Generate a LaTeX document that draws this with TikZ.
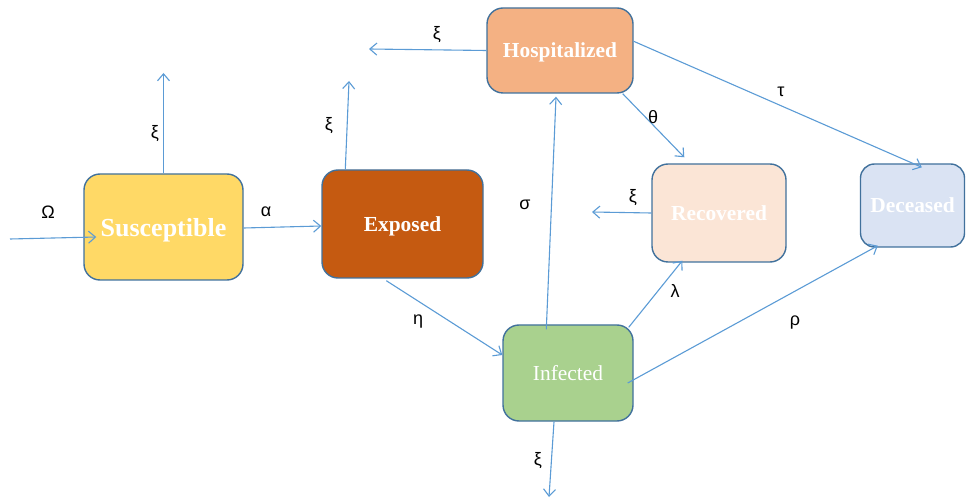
\documentclass[tikz,border=0pt]{standalone}
\usepackage{fontspec}
\setmainfont{Liberation Serif}
\newfontfamily\lblfont{Liberation Sans}
\usetikzlibrary{calc,arrows.meta}
\definecolor{bordc}{HTML}{41719C}
\definecolor{arrc}{HTML}{5B9BD5}
\definecolor{csus}{HTML}{FFD966}
\definecolor{cexp}{HTML}{C55A11}
\definecolor{chos}{HTML}{F4B183}
\definecolor{crec}{HTML}{FBE5D6}
\definecolor{cdec}{HTML}{DAE3F3}
\definecolor{cinf}{HTML}{A9D18E}
\tikzset{
  box/.style={draw=bordc, line width=1.4pt, rounded corners=16pt, text=white, inner sep=0pt, text depth=0pt, font=\fontsize{21.4}{24}\selectfont\bfseries},
  arr/.style={draw=arrc, line width=1.1pt, -{Straight Barb[length=7pt,width=12pt,line width=1.1pt]}},
  lbl/.style={font=\lblfont\fontsize{18}{20}\selectfont, text=black}
}
\begin{document}
\begin{tikzpicture}[x=1pt,y=-1pt]
\useasboundingbox (0,0) rectangle (966,502);
\node[box, fill=csus, minimum width=159pt, minimum height=106pt, font=\fontsize{26}{28}\selectfont\bfseries] (S) at (163.5,227) {Susceptible};
\node[box, fill=cexp, minimum width=161pt, minimum height=108pt] (E) at (402.5,224) {Exposed};
\node[box, fill=chos, minimum width=146pt, minimum height=85pt] (H) at (560,50.5) {Hospitalized};
\node[box, fill=crec, minimum width=134pt, minimum height=98pt] (R) at (719,213) {Recovered};
\node[box, fill=cdec, minimum width=104pt, minimum height=83pt, rounded corners=14pt] (D) at (912.5,205.5) {Deceased};
\node[box, fill=cinf, minimum width=130pt, minimum height=96pt, font=\fontsize{21.4}{24}\selectfont] (I) at (568,373) {Infected};
\coordinate (in) at (10,239);
\coordinate (sup) at (163.5,73);
\coordinate (eup) at (349,81);
\coordinate (hl) at (369,49);
\coordinate (rl) at (592,212);
\coordinate (idown) at (549,497);
\draw[arr] (in) -- ($(S.west)+(13,10)$);
\draw[arr] ($(S.east)+(0,1)$) -- ($(E.west)+(0,2)$);
\draw[arr] (S.north) -- (sup);
\draw[arr] ($(E.north west)+(24,0)$) -- (eup);
\draw[arr] (H.west) -- (hl);
\draw[arr] ($(H.north east)+(0,34)$) -- ($(D.north west)+(62,4)$);
\draw[arr] ($(H.south east)+(-11,0)$) -- ($(R.north west)+(33,-6)$);
\draw[arr] (R.west) -- (rl);
\draw[arr] ($(E.south west)+(65,2)$) -- ($(I.west)+(0,-18)$);
\draw[arr] ($(I.north west)+(44,5)$) -- ($(H.south)+(-4,3)$);
\draw[arr] ($(I.north east)+(-5,3)$) -- ($(R.south west)+(31,-2)$);
\draw[arr] ($(I.east)+(-6,10)$) -- ($(D.south west)+(18,-2)$);
\draw[arr] ($(I.south)+(-14,0)$) -- (idown);
\node[lbl] (l1) at (48,212) {Ω};
\node[lbl] (l2) at (266,212) {α};
\node[lbl] (l3) at (155,134) {ξ};
\node[lbl] (l4) at (329,126) {ξ};
\node[lbl] (l5) at (437,35) {ξ};
\node[lbl] (l6) at (781,92) {τ};
\node[lbl] (l7) at (653,117) {θ};
\node[lbl] (l8) at (633,198) {ξ};
\node[lbl] (l9) at (418,322) {η};
\node[lbl] (l10) at (525,205) {σ};
\node[lbl] (l11) at (675,291) {λ};
\node[lbl] (l12) at (795,323) {ρ};
\node[lbl] (l13) at (538,461) {ξ};
\end{tikzpicture}
\end{document}
